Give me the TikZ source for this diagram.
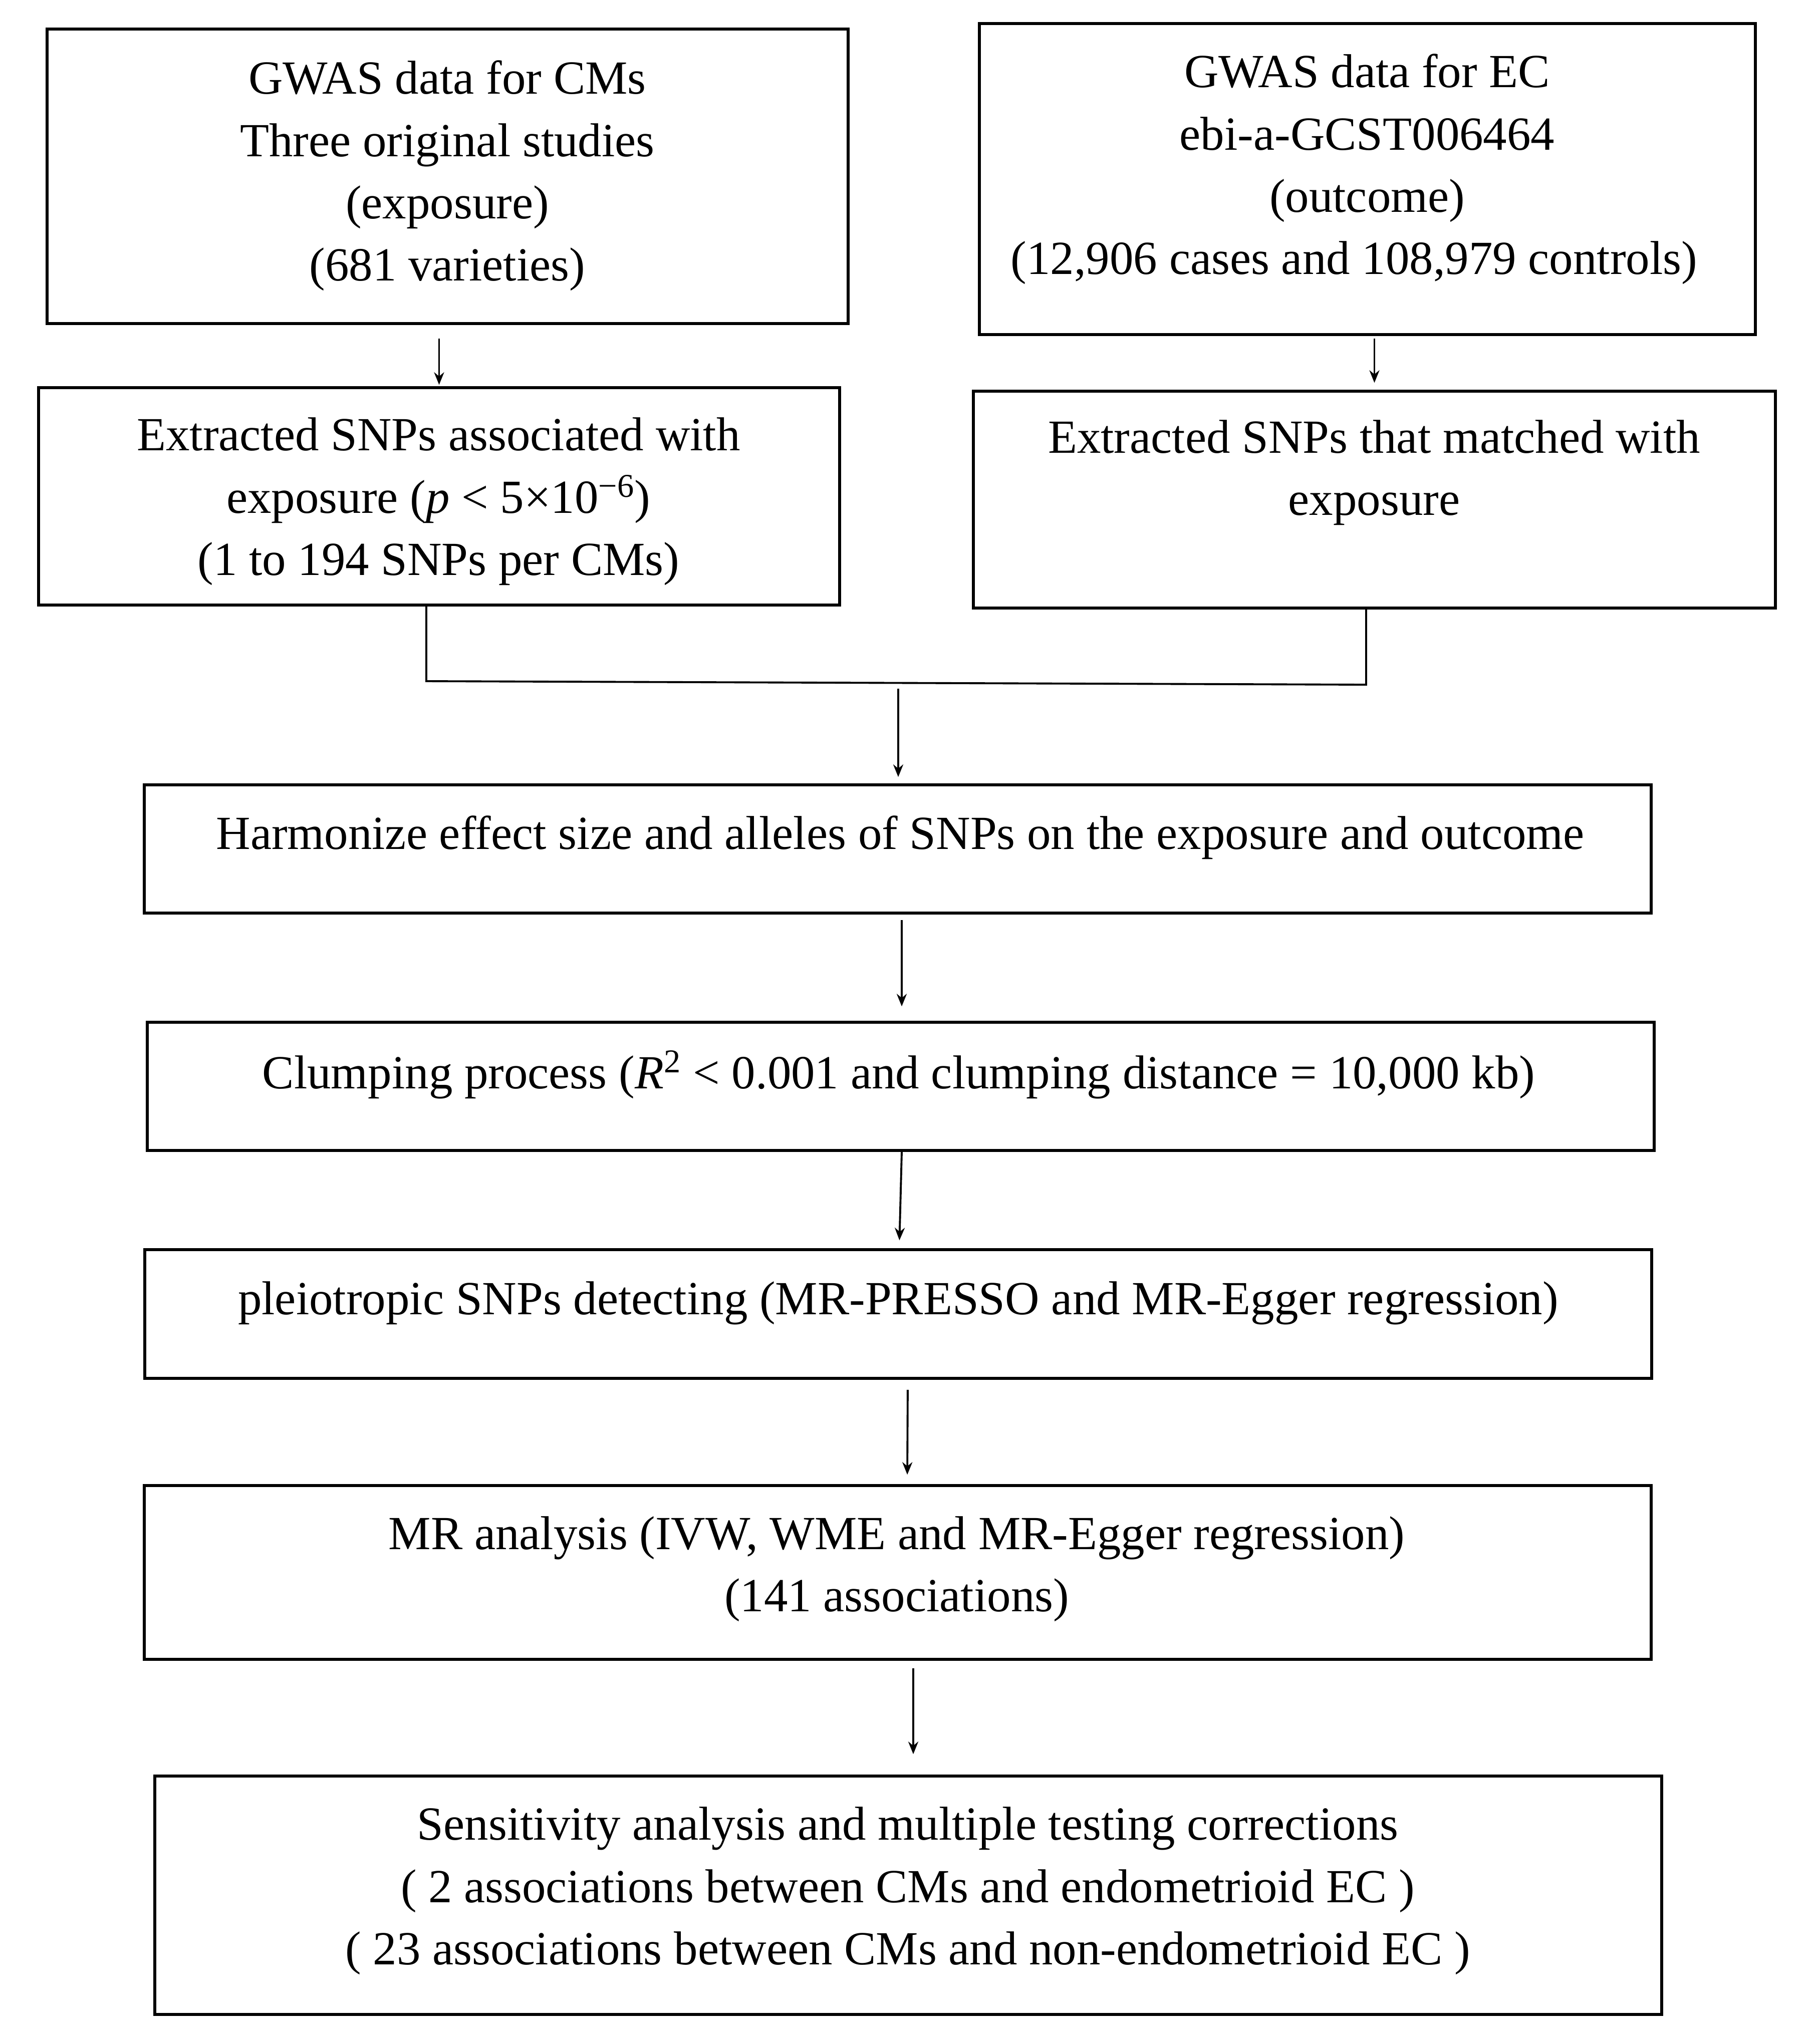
\documentclass[tikz,border=0pt]{standalone}
\usepackage{fontspec}
\setmainfont{Liberation Serif}
\usetikzlibrary{arrows.meta}

\begin{document}
\begin{tikzpicture}[
  box/.style={draw, line width=1.55pt, inner sep=0pt},
  txt/.style={align=center, inner sep=0pt, font=\fontsize{27}{35.4}\selectfont},
  arr/.style={-{Stealth[length=0.25cm,width=0.2cm]}, line width=1.1pt},
  link/.style={line width=1.1pt}
]
  \useasboundingbox (0,0) rectangle (36.24,-40.81);
  \node[box, minimum width=15.99cm, minimum height=5.88cm] (b1) at (8.935,-3.52) {};
  \node[box, minimum width=15.49cm, minimum height=6.21cm] (b2) at (27.295,-3.575) {};
  \node[box, minimum width=15.99cm, minimum height=4.34cm] (b3) at (8.765,-9.91) {};
  \node[box, minimum width=16.01cm, minimum height=4.33cm] (b4) at (27.435,-9.975) {};
  \node[box, minimum width=30.08cm, minimum height=2.56cm] (b5) at (17.92,-16.95) {};
  \node[box, minimum width=30.08cm, minimum height=2.56cm] (b6) at (17.98,-21.69) {};
  \node[box, minimum width=30.08cm, minimum height=2.57cm] (b7) at (17.93,-26.235) {};
  \node[box, minimum width=30.08cm, minimum height=3.47cm] (b8) at (17.92,-31.395) {};
  \node[box, minimum width=30.08cm, minimum height=4.76cm] (b9) at (18.13,-37.84) {};

  \node[txt] (t1) at (8.93,-3.51) {GWAS data for CMs\\Three original studies\\(exposure)\\(681 varieties)};
  \node[txt] (t2) at (27.29,-3.38) {GWAS data for EC\\ebi-a-GCST006464\\(outcome)\\(12,906 cases and 108,979 controls)\kern0.55em};
  \node[txt] (t3) at (8.755,-10.015) {Extracted SNPs associated with\\exposure (\textit{p} < 5×10\textsuperscript{−6})\\(1 to 194 SNPs per CMs)};
  \node[txt] (t4) at (27.43,-9.435) {Extracted SNPs that matched with\\exposure};
  \node[txt] (t5) at (17.97,-16.725) {Harmonize effect size and alleles of SNPs on the exposure and outcome};
  \node[txt] (t6) at (17.94,-21.455) {Clumping process (\textit{R}\textsuperscript{2} < 0.001 and clumping distance = 10,000 kb)};
  \node[txt] (t7) at (17.93,-26.015) {pleiotropic SNPs detecting (MR-PRESSO and MR-Egger regression)};
  \node[txt] (t8) at (17.9,-31.325) {MR analysis (IVW, WME and MR-Egger regression)\\(141 associations)};
  \node[txt] (t9) at (18.12,-37.755) {Sensitivity analysis and multiple testing corrections\\( 2 associations between CMs and endometrioid EC )\\( 23 associations between CMs and non-endometrioid EC )};

  \coordinate (jl) at (8.51,-13.60);
  \coordinate (jr) at (27.27,-13.67);
  \coordinate (jm) at (17.93,-13.75);

  \draw[arr, shorten <=0.27cm, shorten >=0.03cm] (b1.south -| b3.north) -- (b3.north);
  \draw[arr, shorten <=0.05cm, shorten >=0.14cm] (b2.south -| b4.north) -- (b4.north);
  \draw[link] (b3.south -| jl) -- (jl) -- (jr) -- (b4.south -| jr);
  \draw[arr, shorten >=0.13cm] (jm) -- (jm |- b5.north);
  \draw[arr, shorten <=0.11cm, shorten >=0.29cm] ([xshift=0.08cm]b5.south) -- ([xshift=0.02cm]b6.north);
  \draw[arr, shorten >=0.16cm] ([xshift=0.02cm]b6.south) -- ([xshift=0.02cm]b7.north);
  \draw[arr, shorten <=0.2cm, shorten >=0.19cm] ([xshift=0.19cm]b7.south) -- ([xshift=0.19cm]b8.north);
  \draw[arr, shorten <=0.15cm, shorten >=0.41cm] ([xshift=0.31cm]b8.south) -- ([xshift=0.1cm]b9.north);
\end{tikzpicture}
\end{document}
